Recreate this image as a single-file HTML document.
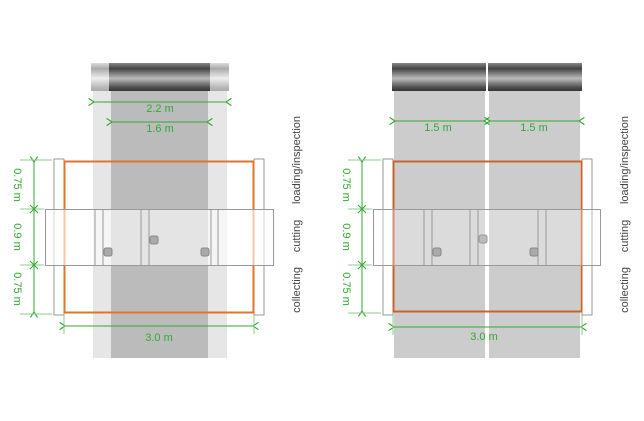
<!DOCTYPE html>
<html><head><style>html,body{margin:0;padding:0;background:#fff}svg{display:block}</style></head>
<body>
<svg width="644" height="421" viewBox="0 0 644 421" xmlns="http://www.w3.org/2000/svg" font-family="Liberation Sans, sans-serif">
<defs>
<linearGradient id="rd" x1="0" y1="0" x2="0" y2="1">
<stop offset="0" stop-color="#888"/><stop offset="0.2" stop-color="#444"/><stop offset="0.55" stop-color="#bbb"/><stop offset="0.85" stop-color="#555"/><stop offset="1" stop-color="#333"/></linearGradient>
<linearGradient id="rl" x1="0" y1="0" x2="0" y2="1">
<stop offset="0" stop-color="#ddd"/><stop offset="0.2" stop-color="#aaa"/><stop offset="0.55" stop-color="#eee"/><stop offset="0.85" stop-color="#bbb"/><stop offset="1" stop-color="#aaa"/></linearGradient>
<marker id="a" viewBox="0 0 10 10" refX="1" refY="5" markerUnits="userSpaceOnUse" markerWidth="9" markerHeight="9" orient="auto-start-reverse"><path d="M7,1 L1,5 L7,9" fill="none" stroke="#3a3" stroke-width="1.3"/></marker>
</defs>
<!-- LEFT -->
<rect x="93" y="63" width="134" height="295" fill="#e6e6e6"/>
<rect x="111" y="63" width="97" height="295" fill="#bbb"/>
<rect x="91" y="63" width="138" height="28" fill="url(#rl)"/>
<rect x="109" y="63" width="101" height="28" fill="url(#rd)"/>
<rect x="54" y="159" width="10" height="156" fill="#fff" stroke="#999"/>
<rect x="254" y="159" width="10" height="156" fill="#fff" stroke="#999"/>
<rect x="64.5" y="161.5" width="189" height="151" fill="none" stroke="#e0742a" stroke-width="2"/>
<rect x="45.5" y="209.5" width="228" height="56" fill="#fff" fill-opacity="0.6" stroke="#999"/>
<g stroke="#999" stroke-width="1"><line x1="95" y1="209" x2="95" y2="265"/><line x1="103" y1="209" x2="103" y2="265"/><line x1="141" y1="209" x2="141" y2="265"/><line x1="149" y1="209" x2="149" y2="265"/><line x1="211" y1="209" x2="211" y2="265"/><line x1="218" y1="209" x2="218" y2="265"/></g>
<rect x="104" y="248" width="8" height="8" rx="2" fill="#aaa" stroke="#888"/>
<rect x="150" y="236" width="8" height="8" rx="2" fill="#aaa" stroke="#888"/>
<rect x="201" y="248" width="8" height="8" rx="2" fill="#aaa" stroke="#888"/>
<g stroke="#3a3" fill="none">
<line x1="94" y1="102" x2="226" y2="102" marker-start="url(#a)" marker-end="url(#a)"/>
<line x1="112" y1="122" x2="207" y2="122" marker-start="url(#a)" marker-end="url(#a)"/>
<line x1="65" y1="326" x2="253" y2="326" marker-start="url(#a)" marker-end="url(#a)"/>
<line x1="34" y1="162" x2="34" y2="312" marker-start="url(#a)" marker-end="url(#a)"/>
<g stroke="#8c8"><line x1="20" y1="160" x2="52" y2="160"/><line x1="20" y1="209" x2="44" y2="209"/><line x1="20" y1="265" x2="44" y2="265"/><line x1="20" y1="314" x2="52" y2="314"/><line x1="64" y1="315" x2="64" y2="334"/><line x1="254" y1="315" x2="254" y2="334"/></g>
<path d="M30,205 l4,4 l4,-4 M30,213 l4,-4 l4,4 M30,261 l4,4 l4,-4 M30,269 l4,-4 l4,4"/>
</g>
<g fill="#3a3" font-size="11" text-anchor="middle">
<text x="160" y="112">2.2 m</text><text x="160" y="132">1.6 m</text><text x="159" y="341">3.0 m</text>
<text transform="translate(14,185) rotate(90)">0.75 m</text>
<text transform="translate(14,237) rotate(90)">0.9 m</text>
<text transform="translate(14,289) rotate(90)">0.75 m</text>
</g>
<g fill="#444" font-size="11" text-anchor="middle">
<text transform="translate(300,160) rotate(-90)">loading/inspection</text>
<text transform="translate(300,236) rotate(-90)">cutting</text>
<text transform="translate(300,290) rotate(-90)">collecting</text>
</g>
<!-- RIGHT -->
<rect x="394" y="63" width="91" height="295" fill="#ccc"/>
<rect x="489" y="63" width="91" height="295" fill="#ccc"/>
<rect x="392" y="63" width="94" height="28" fill="url(#rd)"/>
<rect x="488" y="63" width="94" height="28" fill="url(#rd)"/>
<rect x="383" y="159" width="10" height="156" fill="#fff" stroke="#999"/>
<rect x="582" y="159" width="10" height="156" fill="#fff" stroke="#999"/>
<rect x="393.5" y="161.5" width="188" height="150" fill="none" stroke="#c8642a" stroke-width="2"/>
<rect x="373.5" y="209.5" width="227" height="56" fill="#fff" fill-opacity="0.3" stroke="#999"/>
<g stroke="#999"><line x1="424" y1="209" x2="424" y2="265"/><line x1="432" y1="209" x2="432" y2="265"/><line x1="470" y1="209" x2="470" y2="265"/><line x1="478" y1="209" x2="478" y2="265"/><line x1="538" y1="209" x2="538" y2="265"/><line x1="546" y1="209" x2="546" y2="265"/></g>
<rect x="433" y="248" width="8" height="8" rx="2" fill="#aaa" stroke="#888"/>
<rect x="479" y="235" width="8" height="8" rx="2" fill="#bbb" stroke="#999"/>
<rect x="530" y="248" width="8" height="8" rx="2" fill="#aaa" stroke="#888"/>
<g stroke="#3a3" fill="none">
<line x1="395" y1="121" x2="484" y2="121" marker-start="url(#a)" marker-end="url(#a)"/>
<line x1="490" y1="121" x2="579" y2="121" marker-start="url(#a)" marker-end="url(#a)"/>
<line x1="394" y1="327" x2="581" y2="327" marker-start="url(#a)" marker-end="url(#a)"/>
<line x1="362" y1="162" x2="362" y2="311" marker-start="url(#a)" marker-end="url(#a)"/>
<g stroke="#8c8"><line x1="348" y1="160" x2="381" y2="160"/><line x1="348" y1="209" x2="372" y2="209"/><line x1="348" y1="265" x2="372" y2="265"/><line x1="348" y1="313" x2="381" y2="313"/><line x1="393" y1="315" x2="393" y2="335"/><line x1="582" y1="315" x2="582" y2="335"/></g>
<path d="M358,205 l4,4 l4,-4 M358,213 l4,-4 l4,4 M358,261 l4,4 l4,-4 M358,269 l4,-4 l4,4"/>
</g>
<g fill="#3a3" font-size="11" text-anchor="middle">
<text x="438" y="131">1.5 m</text><text x="534" y="131">1.5 m</text><text x="484" y="340">3.0 m</text>
<text transform="translate(343,185) rotate(90)">0.75 m</text>
<text transform="translate(343,237) rotate(90)">0.9 m</text>
<text transform="translate(343,289) rotate(90)">0.75 m</text>
</g>
<g fill="#444" font-size="11" text-anchor="middle">
<text transform="translate(628,160) rotate(-90)">loading/inspection</text>
<text transform="translate(628,236) rotate(-90)">cutting</text>
<text transform="translate(628,290) rotate(-90)">collecting</text>
</g>
</svg>
</body></html>
